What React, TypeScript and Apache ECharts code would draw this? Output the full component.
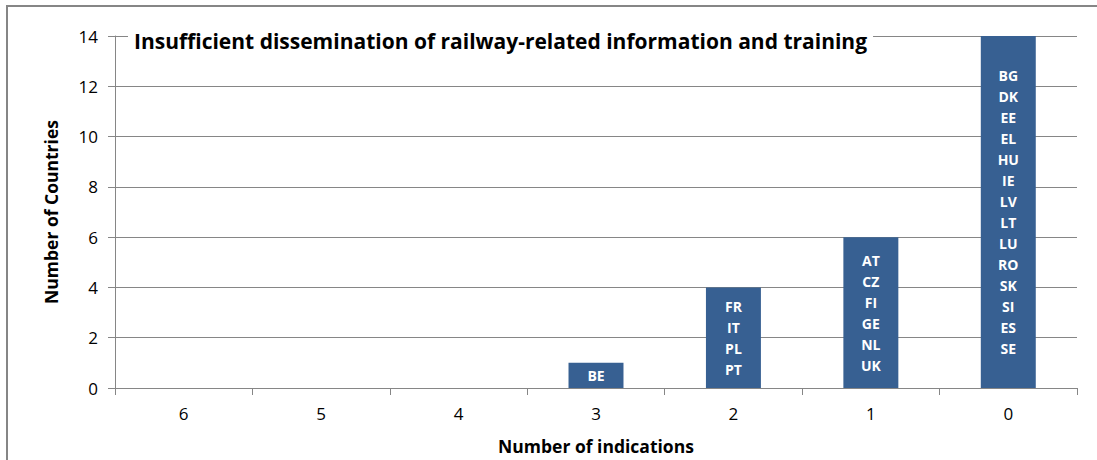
import React, { useEffect, useRef } from "react";
import * as echarts from "echarts";

const categories = ["6", "5", "4", "3", "2", "1", "0"];
const countryCounts = [0, 0, 0, 1, 4, 6, 14];
const countryLabels: string[][] = [
  [],
  [],
  [],
  ["BE"],
  ["FR", "IT", "PL", "PT"],
  ["AT", "CZ", "FI", "GE", "NL", "UK"],
  ["BG", "DK", "EE", "EL", "HU", "IE", "LV", "LT", "LU", "RO", "SK", "SI", "ES", "SE"],
];
const yTicks = [0, 2, 4, 6, 8, 10, 12, 14];
const titleText = "Insufficient dissemination of railway-related information and training";
const xAxisName = "Number of indications";
const yAxisName = "Number of Countries";

const FONT = "'Open Sans', 'Noto Sans', sans-serif";

export default function App() {
  const ref = useRef<HTMLDivElement>(null);
  useEffect(() => {
    if (!ref.current) return;
    const chart = echarts.init(ref.current, null, { renderer: "svg" });
    chart.setOption({
      animation: false,
      backgroundColor: "#ffffff",
      textStyle: { fontFamily: FONT },
      title: {
        text: titleText,
        left: 128,
        top: 26,
        backgroundColor: "#ffffff",
        padding: [4, 6, 6, 6],
        textStyle: { fontFamily: FONT, fontWeight: "bold", fontSize: 21, color: "#000000" },
        z: 10,
      },
      graphic: [
        {
          type: "rect",
          shape: { x: 7, y: 6, width: 1200, height: 600 },
          style: { fill: "none", stroke: "#868686", lineWidth: 2 },
          silent: true,
          z: 100,
        },
      ],
      grid: { left: 115, right: 20, top: 36, bottom: 72, containLabel: false },
      xAxis: {
        type: "category",
        data: categories,
        name: xAxisName,
        nameLocation: "middle",
        nameGap: 49,
        nameTextStyle: { fontFamily: FONT, fontWeight: "bold", fontSize: 17.5, color: "#000000" },
        axisLine: { show: true, lineStyle: { color: "#868686", width: 1 } },
        axisTick: { show: true, alignWithLabel: false, length: 7, lineStyle: { color: "#868686" } },
        axisLabel: { fontFamily: FONT, fontSize: 17, color: "#000000", margin: 17 },
        splitLine: { show: false },
      },
      yAxis: {
        type: "value",
        min: 0,
        max: yTicks[yTicks.length - 1],
        interval: 2,
        name: yAxisName,
        nameLocation: "middle",
        nameGap: 55,
        nameRotate: 90,
        nameTextStyle: { fontFamily: FONT, fontWeight: "bold", fontSize: 17.5, color: "#000000" },
        axisLine: { show: true, lineStyle: { color: "#868686", width: 1 } },
        axisTick: { show: true, inside: false, length: 7, lineStyle: { color: "#868686" } },
        axisLabel: { fontFamily: FONT, fontSize: 17, color: "#000000", margin: 17 },
        splitLine: { show: true, lineStyle: { color: "#868686", width: 1 } },
      },
      series: [
        {
          type: "bar",
          data: countryCounts,
          barCategoryGap: "60%",
          itemStyle: { color: "#376092" },
          label: {
            show: true,
            position: "inside",
            color: "#ffffff",
            fontFamily: FONT,
            fontWeight: "bold",
            fontSize: 14,
            lineHeight: 21,
            formatter: (p: any) => countryLabels[p.dataIndex].join("\n"),
          },
        },
      ],
    });
    return () => chart.dispose();
  }, []);
  return (
    <div
      ref={ref}
      style={{ position: "absolute", left: 0, top: 0, width: 1097, height: 460 }}
    />
  );
}
